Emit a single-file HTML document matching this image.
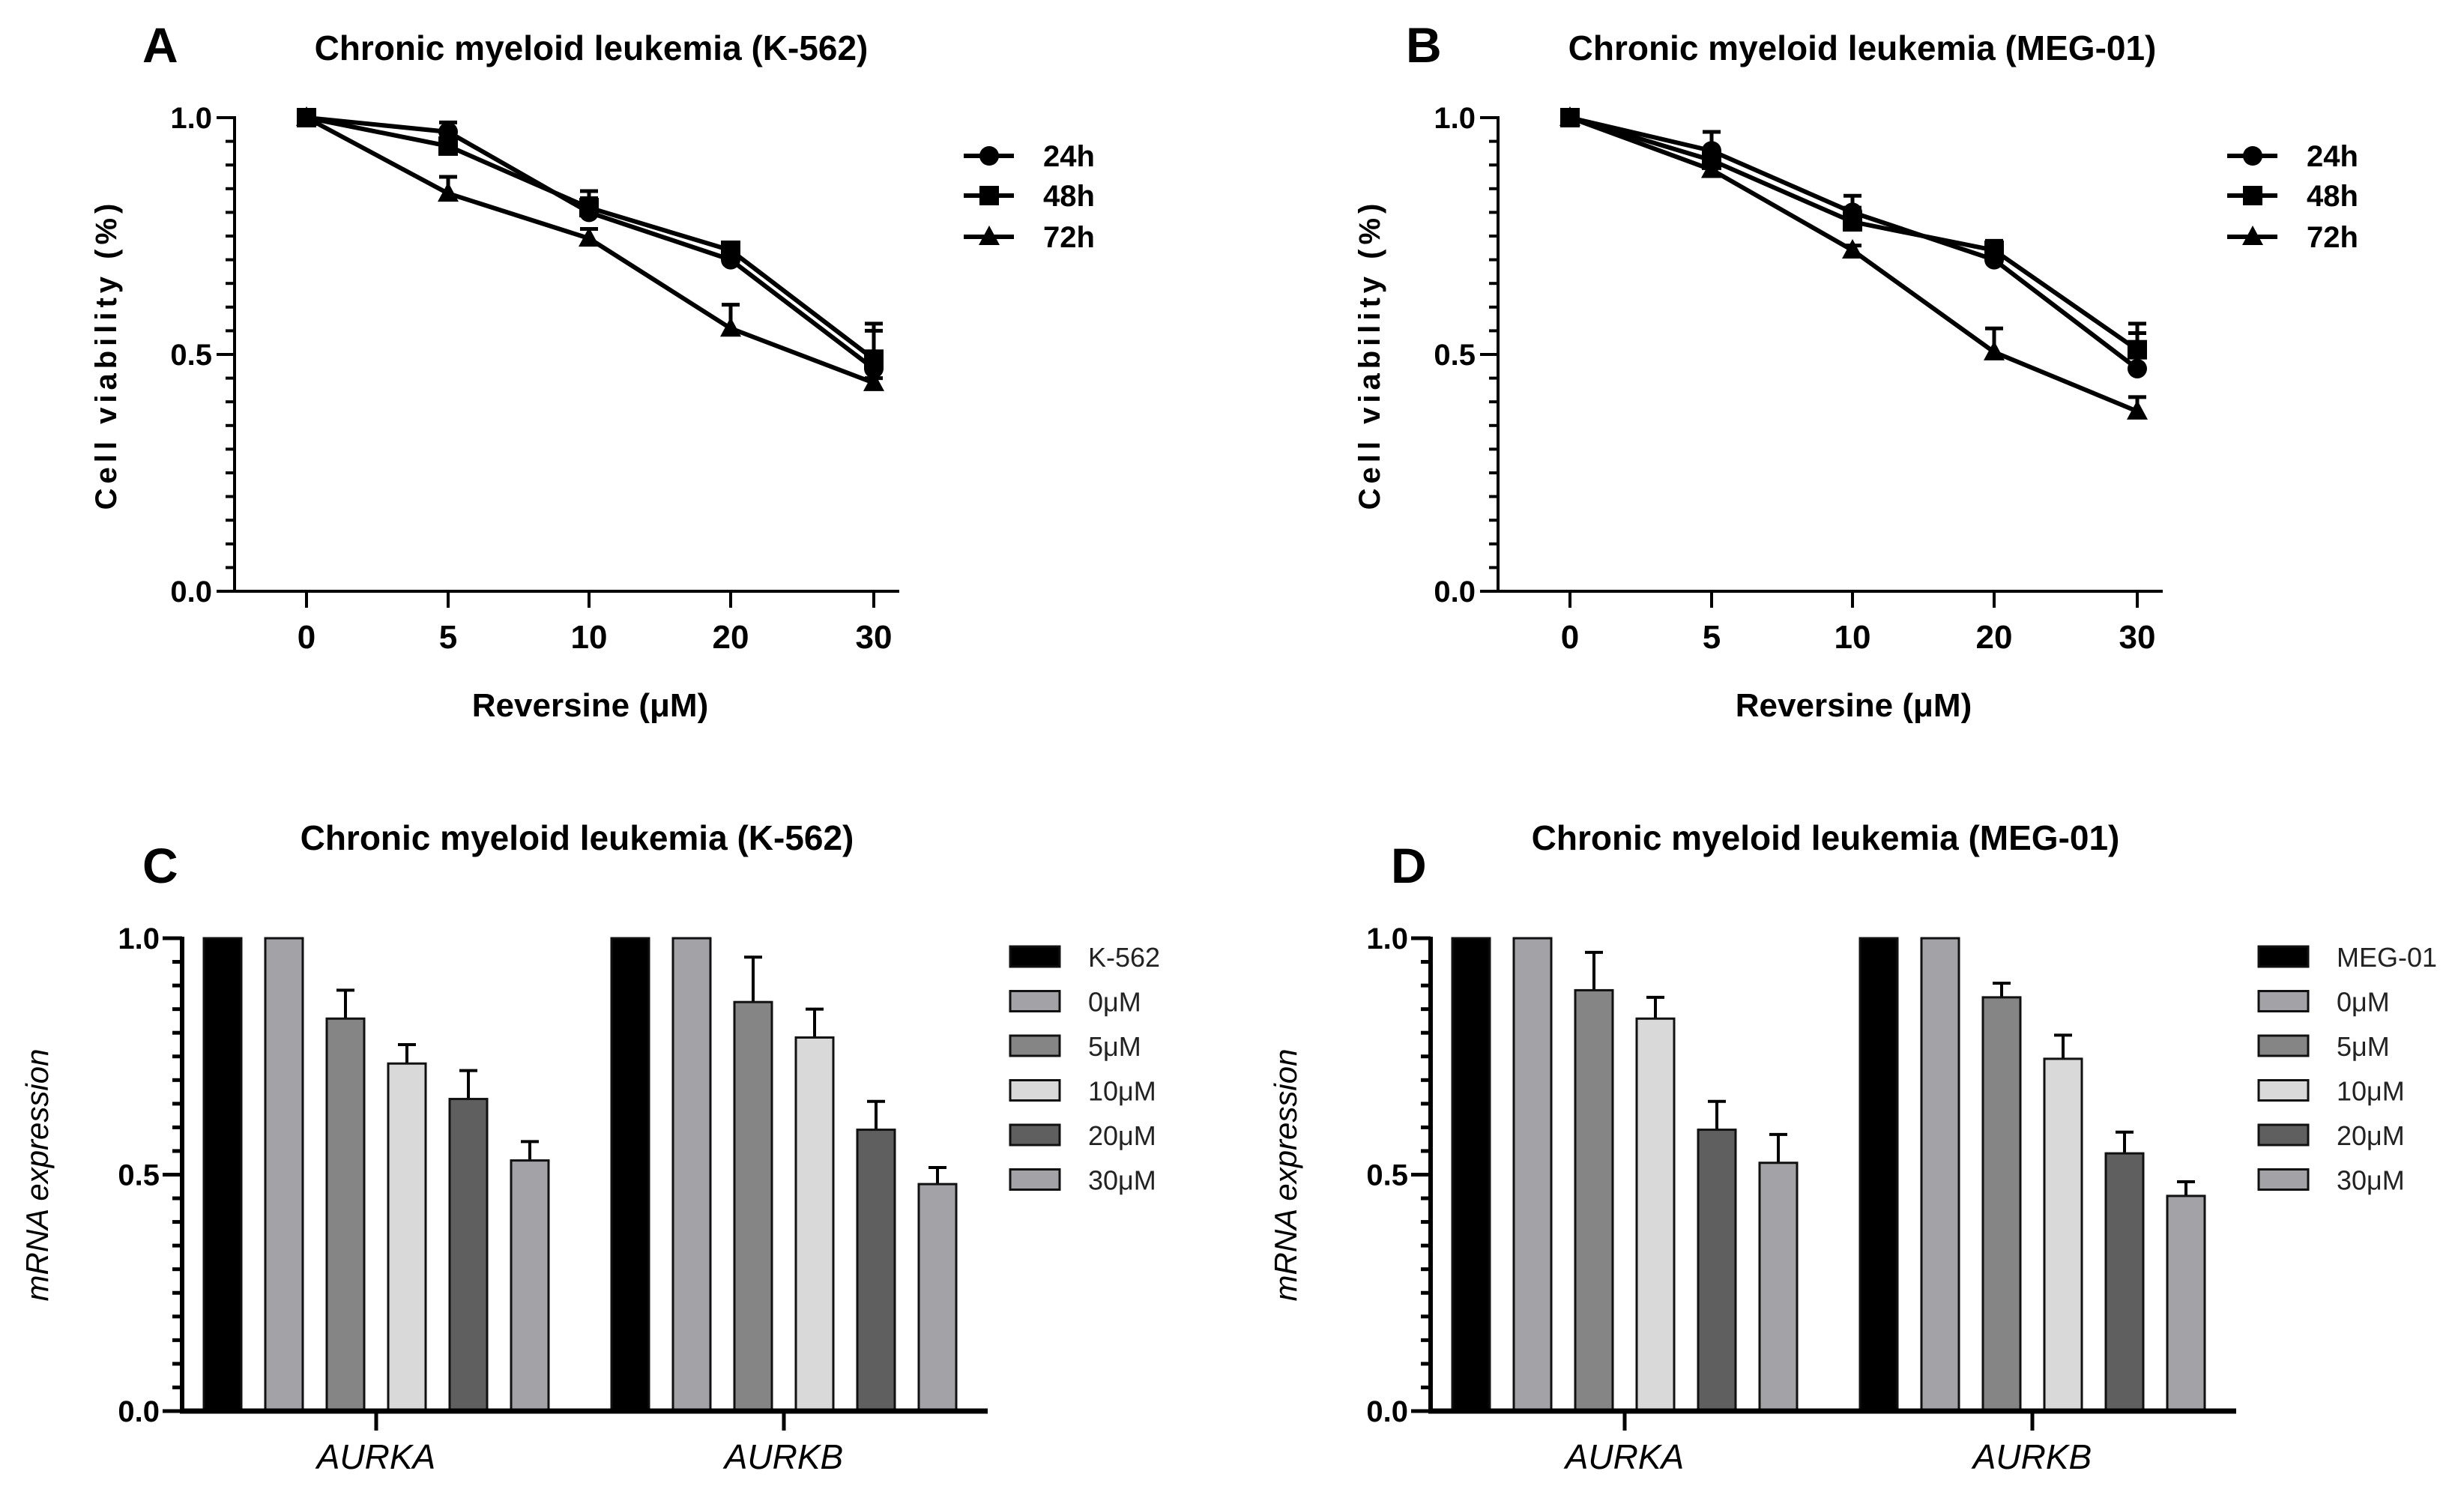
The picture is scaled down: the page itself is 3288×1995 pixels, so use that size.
<!DOCTYPE html>
<html><head><meta charset="utf-8"><title>Reversine CML figure</title>
<style>
html,body{margin:0;padding:0;background:#fff;}
svg{display:block;}
text{font-family:"Liberation Sans",sans-serif;}
</style></head>
<body>
<svg id="fig" xmlns="http://www.w3.org/2000/svg" width="3288" height="1995" viewBox="0 0 3288 1995">
<rect x="0" y="0" width="3288" height="1995" fill="#fff"/>
</svg>
<script>
// ---- Line chart data (panels A, B) ----
const doseLabels = ["0","5","10","20","30"];
const seriesNames = ["24h","48h","72h"];
const aVal24 = [1.0, 0.97, 0.80, 0.70, 0.47];
const aVal48 = [1.0, 0.94, 0.81, 0.72, 0.49];
const aVal72 = [1.0, 0.84, 0.745, 0.555, 0.44];
const aErr24 = [0, 0.02, 0.03, 0.015, 0.095];
const aErr48 = [0, 0.015, 0.035, 0.015, 0.06];
const aErr72 = [0, 0.035, 0.02, 0.05, 0.01];
const bVal24 = [1.0, 0.93, 0.80, 0.70, 0.47];
const bVal48 = [1.0, 0.91, 0.78, 0.72, 0.51];
const bVal72 = [1.0, 0.89, 0.72, 0.505, 0.38];
const bErr24 = [0, 0.04, 0.035, 0.015, 0.075];
const bErr48 = [0, 0.06, 0.03, 0.02, 0.055];
const bErr72 = [0, 0.01, 0.01, 0.05, 0.03];
const yTicksLine = ["0.0","0.5","1.0"];
// ---- Bar chart data (panels C, D) ----
const genes = ["AURKA","AURKB"];
const cLegend = ["K-562","0\u03bcM","5\u03bcM","10\u03bcM","20\u03bcM","30\u03bcM"];
const dLegend = ["MEG-01","0\u03bcM","5\u03bcM","10\u03bcM","20\u03bcM","30\u03bcM"];
const cAURKA = [1, 1, 0.83, 0.735, 0.66, 0.53];
const cAURKB = [1, 1, 0.865, 0.79, 0.595, 0.48];
const cErrA = [0, 0, 0.06, 0.04, 0.06, 0.04];
const cErrB = [0, 0, 0.095, 0.06, 0.06, 0.035];
const dAURKA = [1, 1, 0.89, 0.83, 0.595, 0.525];
const dAURKB = [1, 1, 0.875, 0.745, 0.545, 0.455];
const dErrA = [0, 0, 0.08, 0.045, 0.06, 0.06];
const dErrB = [0, 0, 0.03, 0.05, 0.045, 0.03];

const NS = "http://www.w3.org/2000/svg";
const svg = document.getElementById("fig");
function mk(tag, attrs, parent){
  const e = document.createElementNS(NS, tag);
  for (const k in attrs) e.setAttribute(k, attrs[k]);
  (parent||svg).appendChild(e);
  return e;
}
function txt(s, attrs, parent){ const t = mk("text", attrs, parent); t.textContent = s; return t; }

function linePanel(ox, letter, title, vals, errs, markers){
  const g = mk("g", {});
  
  
  const axX = 313 + ox, yTop = 157, yBot = 789, xEnd = 1200 + ox;
  const xs = [409, 598, 786, 975, 1166].map(v => v + ox);
  const xPos = i => xs[i];
  const yPos = v => yBot - v * (yBot - yTop);
  let t = txt(letter, {x:190+ox, y:83, "font-size":66, "font-weight":"bold"}, g);
  
  
  t = txt(title, {x:(ox===0?789:789+ox+10), y:80, "font-size":46, "font-weight":"bold", "text-anchor":"middle"}, g);
  
  
  // axes
  let a = mk("line", {x1:axX, y1:yTop-2, x2:axX, y2:yBot+2, stroke:"#000", "stroke-width":4}, g);
  
  
  a = mk("line", {x1:axX-2, y1:yBot, x2:xEnd, y2:yBot, stroke:"#000", "stroke-width":4}, g);
  
  
  for (let k=0;k<=20;k++){
    const y = yPos(k/20), major = (k%10===0);
    mk("line", {x1:axX-(major?24:12), y1:y, x2:axX, y2:y, stroke:"#000", "stroke-width":4}, g);
  }
  yTicksLine.forEach(s => {
    const l = txt(s, {x:axX-30, y:yPos(parseFloat(s))+14, "font-size":40, "font-weight":"bold", "text-anchor":"end"}, g);
    
    
  });
  doseLabels.forEach((s,i) => {
    mk("line", {x1:xPos(i), y1:yBot, x2:xPos(i), y2:yBot+22, stroke:"#000", "stroke-width":4}, g);
    const l = txt(s, {x:xPos(i), y:yBot+76, "font-size":44, "font-weight":"bold", "text-anchor":"middle"}, g);
    
    
  });
  t = txt("Cell viability (%)", {x:0, y:0, "font-size":40, "font-weight":"bold", "letter-spacing":6, "text-anchor":"middle", transform:`translate(${155+ox},473) rotate(-90)`}, g);
  
  
  t = txt("Reversine (\u03bcM)", {x:(xs[0]+xs[4])/2, y:956, "font-size":44, "font-weight":"bold", "text-anchor":"middle"}, g);
  
  
  // series
  vals.forEach((ser, si) => {
    const sg = mk("g", {}, g);
    
    
    const pts = ser.map((v,i) => xPos(i)+","+yPos(v)).join(" ");
    mk("polyline", {points:pts, fill:"none", stroke:"#000", "stroke-width":6}, sg);
    ser.forEach((v,i) => {
      const e = errs[si][i];
      if (e > 0){
        const y2 = yPos(v+e);
        const eb = mk("path", {d:`M${xPos(i)},${yPos(v)} V${y2} M${xPos(i)-12},${y2} H${xPos(i)+12}`, stroke:"#000", "stroke-width":5, fill:"none"}, sg);
        
        
      }
      const m = marker(markers[si], xPos(i), yPos(v), sg);
      
      
    });
  });
  // legend
  const ly = [208, 261, 316];
  const lx = 1286 + ox;
  seriesNames.forEach((s,i) => {
    const lg = mk("g", {}, g);
    
    
    mk("line", {x1:lx, y1:ly[i], x2:lx+67, y2:ly[i], stroke:"#000", "stroke-width":6}, lg);
    marker(markers[i], lx+34, ly[i], lg);
    txt(s, {x:lx+106, y:ly[i]+14, "font-size":40, "font-weight":"bold"}, lg);
  });
}
function marker(type, x, y, parent){
  if (type==="circle") return mk("circle", {cx:x, cy:y, r:13, fill:"#000"}, parent);
  if (type==="square") return mk("rect", {x:x-13, y:y-13, width:26, height:26, fill:"#000"}, parent);
  return mk("polygon", {points:`${x},${y-15} ${x+14},${y+11} ${x-14},${y+11}`, fill:"#000"}, parent);
}

const barFills = ["#000000","#a3a3a7","#858585","#d9d9d9","#5f5f5f","#a3a3a7"];
function barPanel(ox, letter, title, legend, groups, errs){
  const g = mk("g", {});
  
  
  const axX = 243 + ox, yTop = 1252, yBot = 1883, xEnd = 1318 + ox;
  const yPos = v => yBot - v * (yBot - yTop);
  const groupStart = [272 + ox, 816 + ox];
  const step = 82, bw = 50;
  const xPos = (gi, bi) => groupStart[gi] + bi * step;
  let t = txt(letter, {x:190+ox, y:1178, "font-size":66, "font-weight":"bold"}, g);
  
  
  t = txt(title, {x:770+ox, y:1134, "font-size":46, "font-weight":"bold", "text-anchor":"middle"}, g);
  
  
  // bars
  groups.forEach((vals, gi) => {
    vals.forEach((v, bi) => {
      const x = xPos(gi, bi), y = yPos(v);
      const e = errs[gi][bi];
      if (e > 0){
        const y2 = yPos(v+e);
        const eb = mk("path", {d:`M${x+bw/2},${y} V${y2} M${x+bw/2-12},${y2} H${x+bw/2+12}`, stroke:"#000", "stroke-width":4, fill:"none"}, g);
        
        
      }
      const r = mk("rect", {x:x, y:y, width:bw, height:yBot-y, fill:barFills[bi], stroke:"#111", "stroke-width":3}, g);
      
      
    });
  });
  // axes
  let a = mk("line", {x1:axX, y1:yTop-2, x2:axX, y2:yBot+3, stroke:"#000", "stroke-width":6}, g);
  
  
  a = mk("line", {x1:axX-3, y1:yBot, x2:xEnd, y2:yBot, stroke:"#000", "stroke-width":7}, g);
  
  
  for (let k=0;k<=20;k++){
    const y = yPos(k/20), major = (k%10===0);
    mk("line", {x1:axX-(major?26:13), y1:y, x2:axX, y2:y, stroke:"#000", "stroke-width":5}, g);
  }
  yTicksLine.forEach(s => {
    const l = txt(s, {x:axX-30, y:yPos(parseFloat(s))+14, "font-size":40, "font-weight":"bold", "text-anchor":"end"}, g);
    
    
  });
  genes.forEach((s, gi) => {
    const cx = (xPos(gi,0) + xPos(gi,5) + bw) / 2;
    mk("line", {x1:cx, y1:yBot, x2:cx, y2:yBot+26, stroke:"#000", "stroke-width":5}, g);
    const l = txt(s, {x:cx, y:1960, "font-size":46, "font-style":"italic", "text-anchor":"middle"}, g);
    
    
  });
  t = txt("mRNA expression", {x:0, y:0, "font-size":42, "font-style":"italic", "text-anchor":"middle", transform:`translate(${64+ox},1568) rotate(-90)`}, g);
  
  
  // legend
  legend.forEach((s, i) => {
    const lg = mk("g", {}, g);
    
    
    const cy = 1277 + i * 59.5;
    mk("rect", {x:1348+ox, y:cy-14, width:66, height:27, fill:barFills[i], stroke:"#111", "stroke-width":3}, lg);
    txt(s, {x:1452+ox, y:cy+13, "font-size":36, fill:"#222"}, lg);
  });
}

const mk3 = ["circle","square","triangle"];
linePanel(0, "A", "Chronic myeloid leukemia (K-562)", [aVal24,aVal48,aVal72], [aErr24,aErr48,aErr72], mk3);
linePanel(1686, "B", "Chronic myeloid leukemia (MEG-01)", [bVal24,bVal48,bVal72], [bErr24,bErr48,bErr72], mk3);
barPanel(0, "C", "Chronic myeloid leukemia (K-562)", cLegend, [cAURKA,cAURKB], [cErrA,cErrB]);
barPanel(1666, "D", "Chronic myeloid leukemia (MEG-01)", dLegend, [dAURKA,dAURKB], [dErrA,dErrB]);
</script>
</body></html>
